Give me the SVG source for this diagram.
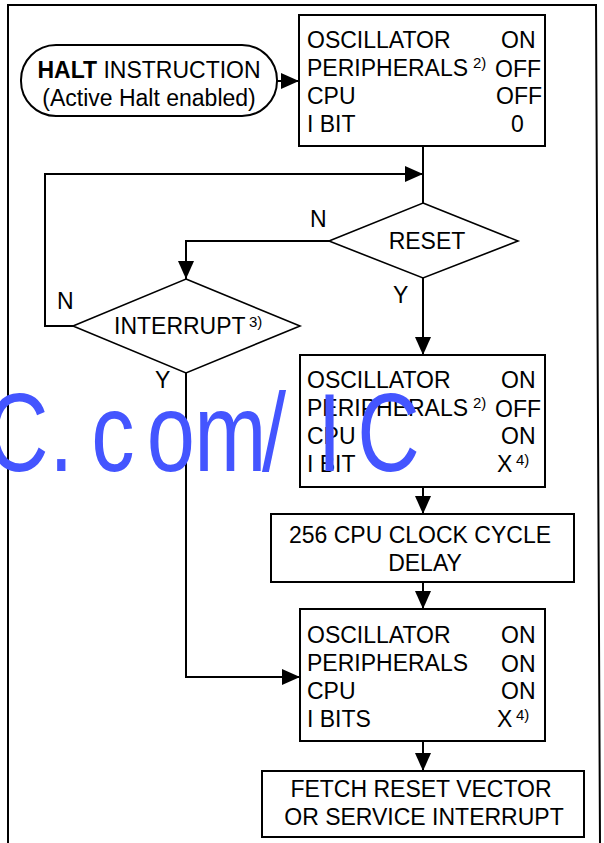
<svg xmlns="http://www.w3.org/2000/svg" width="604" height="843" viewBox="0 0 604 843">
<style>
text{font-family:"Liberation Sans",Arial,sans-serif;font-size:23px;fill:#000}
.sup{font-size:15px}
.b{font-weight:bold}
.box{fill:#fff;stroke:#000;stroke-width:2}
.dia{fill:#fff;stroke:#000;stroke-width:1.6}
.ln{fill:none;stroke:#000;stroke-width:2}
.wm{font-size:111px;fill:#4455ff}
</style>
<defs>
<marker id="ah" markerUnits="userSpaceOnUse" markerWidth="18" markerHeight="16" refX="18" refY="8" orient="auto">
<path d="M0,0 L18,8 L0,16 z" fill="#000"/>
</marker>
</defs>
<rect width="604" height="843" fill="#fff"/>
<polyline class="ln" points="8,843 8,5 596,5 600,843"/>
<g id="connectors">
<line class="ln" x1="277" y1="81" x2="299" y2="81" marker-end="url(#ah)"/>
<line class="ln" x1="423" y1="146" x2="423" y2="203"/>
<polyline class="ln" points="73,326 45,326 45,174 423,174" marker-end="url(#ah)"/>
<polyline class="ln" points="329,241 186,241 186,279" marker-end="url(#ah)"/>
<line class="ln" x1="423" y1="278" x2="423" y2="355" marker-end="url(#ah)"/>
<polyline class="ln" points="186,373 186,677 300,677" marker-end="url(#ah)"/>
<line class="ln" x1="423" y1="487" x2="423" y2="514" marker-end="url(#ah)"/>
<line class="ln" x1="423" y1="582" x2="423" y2="609" marker-end="url(#ah)"/>
<line class="ln" x1="423" y1="741" x2="423" y2="771" marker-end="url(#ah)"/>
<text x="310" y="227">N</text>
<text x="393" y="303">Y</text>
<text x="57" y="309">N</text>
<text x="155" y="388">Y</text>
</g>
<g id="halt">
<rect class="box" x="21" y="45" width="256" height="71" rx="35" ry="35"/>
<text x="149" y="78" text-anchor="middle"><tspan class="b">HALT</tspan> INSTRUCTION</text>
<text x="149" y="106" text-anchor="middle">(Active Halt enabled)</text>
</g>
<g id="state1">
<rect class="box" x="299" y="15" width="246" height="131"/>
<text x="307" y="48">OSCILLATOR</text>
<text x="501" y="48">ON</text>
<text x="307" y="76">PERIPHERALS</text>
<text class="sup" x="473" y="68">2)</text>
<text x="495" y="77">OFF</text>
<text x="307" y="104">CPU</text>
<text x="496" y="104">OFF</text>
<text x="307" y="132">I BIT</text>
<text x="511" y="132">0</text>
</g>
<g id="reset">
<polygon class="dia" points="423,203 518,241 423,278 329,241"/>
<text x="427" y="249" text-anchor="middle">RESET</text>
</g>
<g id="interrupt">
<polygon class="dia" points="186,279 300,326 186,373 73,326"/>
<text x="114" y="334">INTERRUPT</text>
<text class="sup" x="249" y="327">3)</text>
</g>
<g id="state2">
<rect class="box" x="300" y="355" width="245" height="132"/>
<text x="307" y="388">OSCILLATOR</text>
<text x="501" y="388">ON</text>
<text x="307" y="416">PERIPHERALS</text>
<text class="sup" x="473" y="408">2)</text>
<text x="495" y="417">OFF</text>
<text x="307" y="444">CPU</text>
<text x="501" y="444">ON</text>
<text x="307" y="472">I BIT</text>
<text x="497" y="472">X</text>
<text class="sup" x="516" y="465">4)</text>
</g>
<g id="delay">
<rect class="box" x="271" y="514" width="303" height="68"/>
<text x="420" y="543" text-anchor="middle">256 CPU CLOCK CYCLE</text>
<text x="425" y="571" text-anchor="middle">DELAY</text>
</g>
<g id="state3">
<rect class="box" x="300" y="609" width="245" height="132"/>
<text x="307" y="643">OSCILLATOR</text>
<text x="501" y="643">ON</text>
<text x="307" y="671">PERIPHERALS</text>
<text x="501" y="672">ON</text>
<text x="307" y="699">CPU</text>
<text x="501" y="699">ON</text>
<text x="307" y="727">I BITS</text>
<text x="497" y="727">X</text>
<text class="sup" x="516" y="720">4)</text>
</g>
<g id="fetch">
<rect class="box" x="262" y="771" width="322" height="66"/>
<text x="421" y="797" text-anchor="middle">FETCH RESET VECTOR</text>
<text x="424" y="825" text-anchor="middle">OR SERVICE INTERRUPT</text>
</g>
<g id="watermark" transform="scale(0.78,1)">
<text class="wm" x="-18 63 117 188 249 336 407 458" y="471">C.com/IC</text>
</g>
</svg>
